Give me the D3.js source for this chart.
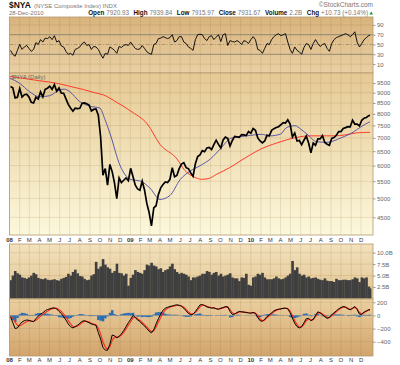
<!DOCTYPE html>
<html>
<head>
<meta charset="utf-8">
<script src="https://cdnjs.cloudflare.com/ajax/libs/d3/7.8.5/d3.min.js"></script>
<style>
body { margin: 0; background: #fff; }
svg text { font-family: "Liberation Sans", Arial, sans-serif; }
</style>
</head>
<body>
<script>
// weekly closes of $NYA, Fri 4-Jan-2008 .. Fri 24-Dec-2010, last one is 28-Dec-2010
var closes = [
  9313, 9247, 8745, 8778, 9214, 8785, 8903, 8930, 8785, 8534, 8501, 8778, 8686,
  9042, 8791, 9174, 9227, 9332, 9167, 9412, 9075, 9240, 8983, 8976, 8699, 8435,
  8266, 8122, 8260, 8240, 8253, 8489, 8502, 8463, 8404, 8135, 8201, 8220, 7945,
  7034, 5690, 5900, 5380, 6040, 5800, 5450, 4990, 5600, 5460, 5530, 5600, 5520,
  5910, 5650, 5380, 5270, 5230, 5500, 5240, 4860, 4620, 4290, 4740, 4800, 5110,
  5300, 5400, 5480, 5460, 5560, 5930, 5640, 5680, 5900, 6050, 6100, 5930, 5900,
  5760, 5650, 6060, 6310, 6370, 6520, 6480, 6620, 6640, 6560, 6740, 6910, 6750,
  6620, 6920, 7030, 6980, 6690, 6900, 7060, 7040, 7020, 7130, 7120, 7090, 7250, 7185,
  7370, 7300, 7000, 6880, 6810, 6880, 7100, 7080, 7300, 7370, 7420, 7450,
  7530, 7620, 7600, 7740, 7560, 7040, 7190, 6880, 6900, 6740, 6910, 7070, 6800,
  6440, 6800, 6720, 6960, 6960, 7090, 6820, 6760, 6720, 6980, 7010, 7100, 7250,
  7250, 7380, 7410, 7450, 7440, 7720, 7560, 7560, 7480, 7720, 7810, 7840, 7920,
  7932
];

// RSI(14), same weeks
var rsi = [
  38, 30, 26, 38, 50, 40, 45, 48, 42, 36, 40, 54, 50, 60, 55, 63, 62, 66, 60, 68,
  55, 58, 47, 45, 36, 30, 32, 28, 40, 42, 45, 52, 55, 48, 50, 40, 46, 45, 40, 30,
  22, 32, 30, 45, 42, 38, 32, 46, 44, 48, 50, 48, 55, 48, 42, 40, 41, 48, 42, 35,
  32, 30, 50, 52, 62, 63, 66, 64, 62, 64, 70, 55, 58, 66, 66, 55, 52, 45, 42, 38,
  60, 70, 71, 70, 62, 58, 66, 68, 60, 65, 70, 56, 70, 72, 48, 58, 56, 55, 58, 55,
  50, 58, 56, 52, 60, 66, 60, 40, 38, 32, 42, 52, 50, 60, 66, 70, 72, 68, 70, 72,
  55, 40, 32, 45, 38, 35, 30, 44, 52, 50, 40, 52, 60, 52, 46, 50, 52, 42, 36, 52,
  60, 64, 66, 68, 70, 72, 70, 66, 70, 76, 55, 45, 52, 60, 64, 68, 69
];

// volume, billions
var volume = [
  4.0, 5.0, 6.0, 5.5, 5.2, 4.6, 4.5, 4.3, 4.6, 5.0, 5.6, 5.3, 4.5, 4.3, 4.2, 4.4, 4.1, 4.0,
  4.1, 4.2, 4.0, 3.9, 4.3, 4.5, 4.7, 5.4, 5.0, 5.8, 6.3, 5.5, 4.9, 4.8, 4.3, 4.0, 4.1,
  5.0, 5.3, 8.0, 6.5, 7.0, 8.6, 7.4, 6.8, 6.5, 5.6, 6.0, 7.6, 5.6, 5.5, 5.0, 5.4, 2.8,
  4.5, 5.2, 6.2, 5.8, 5.6, 5.4, 6.2, 7.4, 7.2, 7.8, 7.2, 7.0, 6.4, 6.6, 5.8, 6.2, 6.4,
  7.0, 7.6, 6.4, 5.8, 5.4, 5.6, 5.4, 5.2, 4.8, 4.0, 4.6, 4.6, 4.8, 5.0, 5.4, 5.4, 6.0,
  5.8, 5.2, 5.6, 5.8, 5.0, 5.4, 4.8, 5.0, 5.2, 5.5, 4.6, 4.4, 4.4, 3.8, 4.6, 4.5, 5.4,
  3.0, 2.8, 4.6, 4.8, 5.4, 5.2, 5.6, 4.6, 4.2, 4.2, 4.2, 4.4, 4.8, 4.4, 4.2, 4.3, 4.6,
  5.0, 5.4, 8.2, 6.2, 6.8, 5.4, 5.0, 5.2, 4.6, 4.8, 4.4, 4.5, 4.6, 4.3, 4.1, 4.0, 4.4,
  3.9, 3.8, 3.8, 3.6, 4.3, 4.0, 4.0, 4.1, 4.1, 4.0, 4.0, 4.2, 4.6, 4.4, 3.6, 4.6, 4.4,
  4.6, 2.6, 2.2
];

// MACD(12,26,9) line and signal
var macd = [
  -20, -110, -200, -190, -140, -100, -80, -70, -75, -90, -95, -50, -10, 20, 40, 70,
  90, 100, 112, 115, 100, 60, 30, -20, -70, -130, -170, -190, -170, -150, -120, -90,
  -80, -95, -110, -130, -140, -150, -260, -360, -490, -525, -530, -440, -300, -310,
  -340, -320, -280, -230, -170, -110, -60, 0, -30, -70, -90, -130, -160, -200, -240,
  -265, -220, -130, -50, 20, 80, 110, 125, 136, 145, 155, 162, 155, 140, 110, 70, 30,
  10, 20, 60, 110, 160, 165, 150, 130, 120, 112, 115, 100, 95, 110, 120, 135, 130, 60,
  15, 20, 45, 60, 55, 50, 45, 38, 35, 45, 30, -30, -80, -90, -60, -15, 10, 40, 70, 86,
  95, 100, 110, 112, 100, 40, -40, -120, -170, -190, -170, -110, -50, -45, -80, -60,
  0, 55, 40, 10, -20, -45, -30, 10, 40, 70, 100, 120, 136, 125, 100, 86, 110, 136, 90,
  20, 15, 50, 70, 86, 90
];
var signal = [
  -10, -40, -100, -150, -160, -140, -115, -95, -82, -82, -88, -75, -45, -15, 15, 40,
  65, 85, 100, 110, 108, 88, 60, 20, -25, -80, -130, -170, -175, -160, -140, -110,
  -90, -90, -100, -118, -132, -142, -190, -280, -400, -480, -515, -480, -380, -330,
  -330, -325, -300, -260, -205, -150, -95, -40, -25, -50, -75, -105, -140, -175, -215,
  -245, -235, -175, -100, -30, 35, 85, 110, 125, 135, 145, 152, 152, 145, 125, 92, 52,
  25, 20, 42, 85, 130, 155, 155, 140, 128, 118, 115, 106, 98, 104, 114, 126, 130, 90,
  40, 25, 35, 52, 55, 52, 48, 42, 38, 42, 36, 0, -55, -80, -72, -35, -5, 25, 55, 76,
  90, 97, 105, 110, 105, 65, 0, -80, -140, -175, -175, -135, -80, -55, -68, -65,
  -20, 35, 42, 22, -5, -32, -33, -5, 25, 55, 85, 108, 126, 126, 110, 94, 102, 124, 105,
  45, 25, 40, 62, 78, 80
];

// moving averages
var ma50Dates = ["2008-01-02","2008-02-01","2008-03-01","2008-04-01","2008-05-01","2008-06-01",
  "2008-06-15","2008-07-01","2008-08-01","2008-09-01","2008-10-01","2008-10-15","2008-11-01",
  "2008-12-01","2009-01-01","2009-02-01","2009-03-01","2009-04-01","2009-05-01","2009-06-01",
  "2009-07-01","2009-08-01","2009-09-01","2009-10-01","2009-11-01","2009-12-01","2010-01-01",
  "2010-02-01","2010-03-01","2010-04-01","2010-04-20","2010-05-15","2010-06-01","2010-06-20",
  "2010-07-20","2010-08-20","2010-10-01","2010-11-10","2010-12-01","2010-12-28"];
var ma50 = [9750, 9480, 9060, 8800, 8850, 9140, 9180, 9060, 8560, 8350, 8260, 7800, 7150,
  6000, 5560, 5500, 5300, 4970, 5080, 5550, 5820, 6000, 6230, 6590, 6980, 7050, 7100,
  7140, 7080, 7150, 7420, 7490, 7350, 7150, 6850, 6830, 7000, 7250, 7450, 7660];

var ma200Dates = ["2008-01-02","2008-02-01","2008-03-01","2008-04-01","2008-05-01","2008-05-22",
  "2008-07-01","2008-08-12","2008-09-15","2008-10-10","2008-11-22","2009-01-09","2009-02-21",
  "2009-04-01","2009-05-22","2009-06-15","2009-07-10","2009-08-05","2009-08-25","2009-09-20",
  "2009-11-01","2009-11-29","2010-01-01","2010-01-28","2010-03-20","2010-05-20","2010-06-29",
  "2010-09-07","2010-10-15","2010-11-19","2010-12-28"];
var ma200 = [9850, 9780, 9700, 9620, 9550, 9490, 9330, 9160, 9000, 8900, 8520, 8060, 7570,
  6750, 6230, 5840, 5650, 5560, 5580, 5720, 5950, 6150, 6380, 6560, 6800, 7020, 7080,
  7080, 7120, 7200, 7220];

// axis labels
var monthLetters = ["J", "F", "M", "A", "M", "J", "J", "A", "S", "O", "N", "D"];
var yearLabels = {2008: "08", 2009: "09", 2010: "10"};
var rsiTicks = [90, 70, 50, 30, 10];
var priceTicks = [9500, 9000, 8500, 8000, 7500, 7000, 6500, 6000, 5500, 5000, 4500];
var volTicks = [10, 7.5, 5, 2.5];
var volTickLabels = ["10.0B", "7.5B", "5.0B", "2.5B"];
var macdTicks = [200, 0, -200, -400];

var parse = d3.timeParse("%Y-%m-%d");
var lastDay = new Date(2010, 11, 28);
var weeks = closes.map(function(d, i) {
  return d3.min([d3.timeDay.offset(new Date(2008, 0, 4), 7 * i), lastDay]);
});

var width = 400, height = 365;
var L = 9.5, R = 373;

// panels top/bottom
var rsiP = {top: 17, bottom: 73, c0: "#d9b47c", c1: "#e9d0a4"},
    priceP = {top: 73, bottom: 235, c0: "#e6c994", c1: "#fcf8dc"},
    volP = {top: 244, bottom: 299, c0: "#f2e1bc", c1: "#e2c592"},
    macdP = {top: 299, bottom: 356, c0: "#ebd0a0", c1: "#d2a46c"};

var x = d3.scaleTime()
    .domain([new Date(2008, 0, 1), lastDay])
    .range([L, 370]);

var rsiY = d3.scaleLinear().domain([0, 100]).range([69, 20]);
var priceY = d3.scaleLog().domain([4500, 9500]).range([217.3, 83]);
var volY = d3.scaleLinear().domain([0, 10]).range([298.5, 252.7]);
var macdY = d3.scaleLinear().domain([-400, 200]).range([341.7, 302.3]);

var svg = d3.select("body").append("svg")
    .attr("width", width)
    .attr("height", height);

var defs = svg.append("defs");

var months = d3.timeMonth.range(new Date(2008, 0, 1), new Date(2010, 11, 2));

// draw the panel background, gridlines and border
function panel(p, id) {
  var g = defs.append("linearGradient").attr("id", "g" + id)
      .attr("x1", 0).attr("y1", 0).attr("x2", 0).attr("y2", 1);
  g.append("stop").attr("offset", "0%").attr("stop-color", p.c0);
  g.append("stop").attr("offset", "100%").attr("stop-color", p.c1);
  defs.append("clipPath").attr("id", "c" + id)
    .append("rect").attr("x", L).attr("y", p.top).attr("width", R - L).attr("height", p.bottom - p.top);

  svg.append("rect")
      .attr("x", L).attr("y", p.top)
      .attr("width", R - L).attr("height", p.bottom - p.top)
      .attr("fill", "url(#g" + id + ")");

  svg.append("g").selectAll("line")
    .data(months)
    .enter().append("line")
      .attr("x1", function(d) { return x(d); })
      .attr("x2", function(d) { return x(d); })
      .attr("y1", p.top).attr("y2", p.bottom)
      .attr("stroke", "rgba(140,105,50,0.22)")
      .attr("stroke-width", 0.7);

  return svg.append("g").attr("clip-path", "url(#c" + id + ")");
}

function hgrid(g, vals, yScale) {
  g.selectAll("line.h")
    .data(vals)
    .enter().append("line")
      .attr("class", "h")
      .attr("x1", L).attr("x2", R)
      .attr("y1", function(d) { return yScale(d); })
      .attr("y2", function(d) { return yScale(d); })
      .attr("stroke", "rgba(140,105,50,0.22)")
      .attr("stroke-width", 0.7);
}

function border(p) {
  svg.append("rect")
      .attr("x", L).attr("y", p.top)
      .attr("width", R - L).attr("height", p.bottom - p.top)
      .attr("fill", "none")
      .attr("stroke", "#b49a70")
      .attr("stroke-width", 0.8);
}

function rightAxis(scale, vals, fmt) {
  var ax = svg.append("g")
      .attr("transform", "translate(" + R + ",0)")
      .call(d3.axisRight(scale).tickValues(vals).tickSize(2.5).tickPadding(1.5).tickFormat(fmt));
  ax.select(".domain").remove();
  ax.selectAll("line").attr("stroke", "#999");
  ax.selectAll("text")
      .attr("fill", "#666")
      .style("font-size", "6px");
}

// ---- RSI panel ----
var rsiG = panel(rsiP, "rsi");
hgrid(rsiG, [90, 10], rsiY);
rsiG.selectAll("line.lvl")
  .data([70, 30])
  .enter().append("line")
    .attr("x1", L).attr("x2", R)
    .attr("y1", function(d) { return rsiY(d); })
    .attr("y2", function(d) { return rsiY(d); })
    .attr("stroke", "#8a8070").attr("stroke-width", 0.9);
rsiG.append("line")
    .attr("x1", L).attr("x2", R)
    .attr("y1", rsiY(50)).attr("y2", rsiY(50))
    .attr("stroke", "#9a8a70").attr("stroke-width", 0.8)
    .attr("stroke-dasharray", "4,1.5,1,1.5");
rsiG.append("path")
    .datum(rsi)
    .attr("fill", "none")
    .attr("stroke", "#111")
    .attr("stroke-width", 1)
    .attr("d", d3.line()
      .x(function(d, i) { return x(weeks[i]); })
      .y(function(d) { return rsiY(d); }));
border(rsiP);
rightAxis(rsiY, rsiTicks, d3.format("d"));

// ---- price panel ----
var priceG = panel(priceP, "price");
hgrid(priceG, priceTicks, priceY);

var maLine = function(dates) {
  return d3.line()
    .curve(d3.curveMonotoneX)
    .x(function(d, i) { return x(parse(dates[i])); })
    .y(function(d) { return priceY(d); });
};

priceG.append("path")
    .datum(ma200)
    .attr("fill", "none")
    .attr("stroke", "#ff3a2a")
    .attr("stroke-width", 1)
    .attr("d", maLine(ma200Dates));

priceG.append("path")
    .datum(ma50)
    .attr("fill", "none")
    .attr("stroke", "#4848a8")
    .attr("stroke-width", 0.9)
    .attr("d", maLine(ma50Dates));

priceG.append("path")
    .datum(closes)
    .attr("fill", "none")
    .attr("stroke", "#000")
    .attr("stroke-width", 1.7)
    .attr("stroke-linejoin", "miter")
    .attr("d", d3.line()
      .x(function(d, i) { return x(weeks[i]); })
      .y(function(d) { return priceY(d); }));

priceG.append("text")
    .attr("x", L + 2).attr("y", priceP.top + 6)
    .attr("fill", "#666")
    .style("font-size", "6px")
    .text("$NYA (Daily)");
border(priceP);
rightAxis(priceY, priceTicks, d3.format("d"));

// ---- month axes ----
function monthAxis(y) {
  svg.append("g").selectAll("text")
    .data(months)
    .enter().append("text")
      .attr("x", function(d) { return x(d); })
      .attr("y", y)
      .attr("text-anchor", "middle")
      .attr("fill", "#333")
      .style("font-size", "6px")
      .style("font-weight", function(d) { return d.getMonth() == 0 ? "bold" : "normal"; })
      .text(function(d) {
        return d.getMonth() == 0 ? yearLabels[d.getFullYear()] : monthLetters[d.getMonth()];
      });
}
monthAxis(241.5);
monthAxis(362);

// ---- volume panel ----
var volG = panel(volP, "vol");
hgrid(volG, volTicks, volY);
var bw = x(new Date(2008, 0, 8)) - x(new Date(2008, 0, 1));
volG.selectAll("rect.v")
  .data(volume)
  .enter().append("rect")
    .attr("class", "v")
    .attr("x", function(d, i) { return x(weeks[i]) - bw / 2; })
    .attr("y", function(d) { return volY(d); })
    .attr("width", bw + 0.3)
    .attr("height", function(d) { return volY(0) - volY(d); })
    .attr("fill", "#3f3f3f");
border(volP);
rightAxis(volY, volTicks, function(d, i) { return volTickLabels[i]; });

// ---- MACD panel ----
var macdG = panel(macdP, "macd");
hgrid(macdG, macdTicks, macdY);
macdG.selectAll("rect.h")
  .data(macd)
  .enter().append("rect")
    .attr("x", function(d, i) { return x(weeks[i]) - bw / 2; })
    .attr("y", function(d, i) { return macdY(Math.max(0, d - signal[i])); })
    .attr("width", bw + 0.2)
    .attr("height", function(d, i) { return Math.abs(macdY(d - signal[i]) - macdY(0)); })
    .attr("fill", "#2a6db5");

var wkLine = function(yScale) {
  return d3.line()
    .x(function(d, i) { return x(weeks[i]); })
    .y(function(d) { return yScale(d); });
};
macdG.append("path")
    .datum(signal)
    .attr("fill", "none")
    .attr("stroke", "#ff2a1a")
    .attr("stroke-width", 1.1)
    .attr("d", wkLine(macdY));
macdG.append("path")
    .datum(macd)
    .attr("fill", "none")
    .attr("stroke", "#000")
    .attr("stroke-width", 1)
    .attr("d", wkLine(macdY));
border(macdP);
rightAxis(macdY, macdTicks, d3.format("d"));

// ---- header ----
var t1 = svg.append("text").attr("x", 9).attr("y", 8);
t1.append("tspan").style("font-size", "8.5px").style("font-weight", "bold").attr("fill", "#111").text("$NYA");
t1.append("tspan").attr("dx", 3).style("font-size", "6px").attr("fill", "#777").text("(NYSE Composite Index) INDX");

svg.append("text")
    .attr("x", 373).attr("y", 6.5)
    .attr("text-anchor", "end")
    .attr("fill", "#777")
    .style("font-size", "6.5px")
    .text("©StockCharts.com");

svg.append("text")
    .attr("x", 9).attr("y", 15)
    .attr("fill", "#777")
    .style("font-size", "6px")
    .text("28-Dec-2010");

var stats = [["Open", "7920.93"], ["High", "7939.84"], ["Low", "7915.97"],
  ["Close", "7931.67"], ["Volume", "2.2B"], ["Chg", "+10.73 (+0.14%)"]];
var t2 = svg.append("text").attr("x", 368).attr("y", 15).attr("text-anchor", "end")
    .style("font-size", "6.3px");
stats.forEach(function(s, i) {
  t2.append("tspan").attr("dx", i ? 4.5 : 0).style("font-weight", "bold").attr("fill", "#111").text(s[0]);
  t2.append("tspan").attr("dx", 2).attr("fill", "#777").text(s[1]);
});
svg.append("path")
    .attr("d", "M369.5,14.5 L373,14.5 L371.25,11.5 Z")
    .attr("fill", "#1a9a1a");
</script>
</body>
</html>
